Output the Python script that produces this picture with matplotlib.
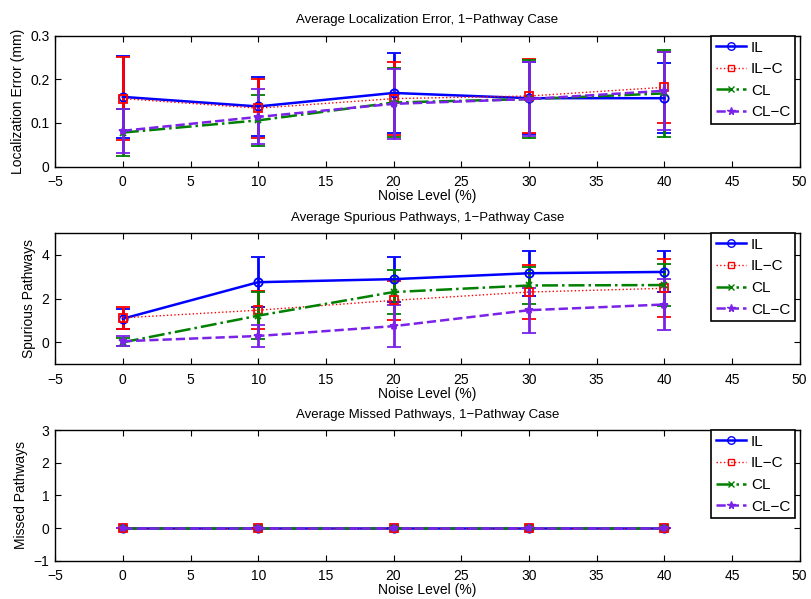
import matplotlib
matplotlib.use("Agg")
import matplotlib.pyplot as plt
from matplotlib.lines import Line2D
import numpy as np

plt.rcParams['font.family'] = ['Liberation Sans', 'DejaVu Sans']
plt.rcParams['axes.unicode_minus'] = True

noise = [0, 10, 20, 30, 40]
labels = ["IL", "IL\u2212C", "CL", "CL\u2212C"]

# Localization error (mm)
loc_mean = {
    "IL":   [0.160, 0.138, 0.169, 0.157, 0.157],
    "IL-C": [0.156, 0.134, 0.156, 0.162, 0.182],
    "CL":   [0.078, 0.106, 0.147, 0.155, 0.168],
    "CL-C": [0.082, 0.114, 0.144, 0.155, 0.174],
}
loc_std = {
    "IL":   [0.095, 0.067, 0.091, 0.083, 0.081],
    "IL-C": [0.095, 0.068, 0.083, 0.085, 0.081],
    "CL":   [0.054, 0.058, 0.080, 0.090, 0.100],
    "CL-C": [0.050, 0.063, 0.080, 0.085, 0.090],
}
# Spurious pathways
spu_mean = {
    "IL":   [1.08, 2.75, 2.89, 3.16, 3.22],
    "IL-C": [1.12, 1.47, 1.92, 2.30, 2.47],
    "CL":   [0.00, 1.22, 2.30, 2.60, 2.62],
    "CL-C": [0.05, 0.29, 0.74, 1.47, 1.73],
}
spu_std = {
    "IL":   [0.45, 1.14, 1.03, 1.04, 0.94],
    "IL-C": [0.50, 0.86, 0.90, 1.25, 1.33],
    "CL":   [0.18, 1.08, 1.00, 0.85, 0.97],
    "CL-C": [0.22, 0.50, 0.95, 1.03, 1.17],
}
# Missed pathways
mis_mean = {k: [0, 0, 0, 0, 0] for k in ["IL", "IL-C", "CL", "CL-C"]}
mis_std = {k: [0, 0, 0, 0, 0] for k in ["IL", "IL-C", "CL", "CL-C"]}

keys = ["IL", "IL-C", "CL", "CL-C"]
styles = {
    "IL":   dict(color='#0000ff', ls='-', marker='o', mfc='none', lw=1.8, ms=6),
    "IL-C": dict(color='#ff0000', ls=':', marker='s', mfc='none', lw=1.0, ms=5.5),
    "CL":   dict(color='#008000', ls='-.', marker='x', mfc='none', lw=1.8, ms=5),
    "CL-C": dict(color='#7b22e8', ls='--', marker='*', mfc='#7b22e8', lw=1.8, ms=6),
}

fig = plt.figure(figsize=(8.11, 5.99), dpi=100)
L, W = 0.068, 0.918
axes_pos = [
    [L, 0.722, W, 0.218],
    [L, 0.392, W, 0.219],
    [L, 0.064, W, 0.218],
]
panels = [
    (loc_mean, loc_std, "Average Localization Error, 1\u2212Pathway Case", "Localization Error (mm)",
     (0, 0.3), [0, 0.1, 0.2, 0.3], ["0", "0.1", "0.2", "0.3"]),
    (spu_mean, spu_std, "Average Spurious Pathways, 1\u2212Pathway Case", "Spurious Pathways",
     (-1, 5), [0, 2, 4], ["0", "2", "4"]),
    (mis_mean, mis_std, "Average Missed Pathways, 1\u2212Pathway Case", "Missed Pathways",
     (-1, 3), [-1, 0, 1, 2, 3], ["\u22121", "0", "1", "2", "3"]),
]

for pos, (mean, std, title, ylabel, ylim, yticks, ytl) in zip(axes_pos, panels):
    ax = fig.add_axes(pos)
    handles = []
    for k, lab in zip(keys, labels):
        s = styles[k]
        ax.errorbar(noise, mean[k], yerr=std[k], color=s['color'], ls=s['ls'],
                    marker=s['marker'], mfc=s['mfc'], mec=s['color'], ms=s['ms'],
                    mew=1.3, lw=s['lw'], elinewidth=2.0, capsize=5, capthick=2.0)
        handles.append(Line2D([], [], color=s['color'], ls=s['ls'], marker=s['marker'],
                              mfc=s['mfc'], mec=s['color'], ms=s['ms'] * 0.9, mew=1.0,
                              lw=s['lw'], label=lab))
    ax.set_xlim(-5, 50)
    ax.set_xticks(np.arange(-5, 51, 5))
    ax.set_ylim(*ylim)
    ax.set_yticks(yticks)
    ax.set_yticklabels(ytl)
    ax.set_title(title, fontsize=9.5, pad=9)
    ax.set_ylabel(ylabel, fontsize=10)
    ax.set_xlabel("Noise Level (%)", fontsize=10, labelpad=0)
    ax.tick_params(direction='in', top=True, right=True, labelsize=10, length=4)
    ax.tick_params(axis='x', pad=6)
    ax.tick_params(axis='y', pad=4)
    for sp in ax.spines.values():
        sp.set_linewidth(1.0)
    leg = ax.legend(handles=handles, loc='upper right', fontsize=11, fancybox=False,
                    framealpha=1, edgecolor='black', handlelength=2.0, handletextpad=0.3,
                    borderpad=0.3, labelspacing=0.5, borderaxespad=0.0,
                    bbox_to_anchor=(0.9935, 1.0))
    leg.get_frame().set_linewidth(1.2)

fig.savefig("out.png", dpi=100)
